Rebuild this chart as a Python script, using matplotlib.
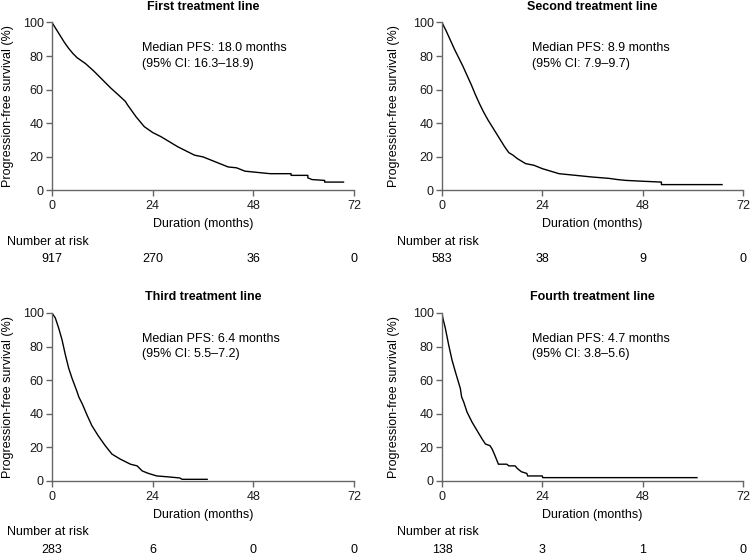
import matplotlib
matplotlib.use("Agg")
import matplotlib.pyplot as plt

plt.rcParams['font.family'] = ['Liberation Sans', 'DejaVu Sans']
plt.rcParams['font.size'] = 9

# Kaplan-Meier curves (months, % progression-free)
t_first = [0, 1, 2, 3, 4, 5, 6, 8, 10, 12, 14, 16, 17.5, 18, 20, 22, 24, 26, 28, 30,
           32, 34, 36, 38, 40, 42, 44, 46, 48, 50, 52, 57, 57, 61, 61, 62, 65, 65, 69.5]
s_first = [100, 96, 92, 88, 84.5, 81.5, 79, 75.5, 71, 66, 61, 56.5, 53, 51, 44, 38, 34.5,
           32, 29, 26, 23.5, 21, 20, 18, 16, 14, 13.5, 11.5, 11, 10.5, 10, 10, 9, 9, 7.5,
           6.5, 6, 5, 5]

t_second = [0, 1, 2, 3, 4, 5, 6, 7, 8, 9, 10, 11, 12, 13, 14, 15, 16, 17, 18, 19, 20,
            22, 24, 26, 28, 30, 32, 36, 40, 42, 44, 48, 52.5, 52.5, 67]
s_second = [100, 95, 89.5, 84, 79, 74, 68.5, 63, 57, 51.5, 46.5, 42, 38, 34, 30, 26, 22.5,
            21, 19, 17.5, 16, 15, 13, 11.5, 10, 9.5, 9, 8, 7.2, 6.5, 6, 5.5, 5, 3.5, 3.5]

t_third = [0, 0.8, 1.6, 2.4, 3.2, 4, 4.8, 6, 6.4, 7.2, 8.4, 9.5, 11, 12.7, 14.3, 16.3,
           18.7, 20.3, 21.5, 23, 25, 27.5, 30.5, 31, 37]
s_third = [100, 97, 91, 84, 75, 67, 61, 53, 50, 46, 39, 33, 27, 21, 16, 13, 10, 9, 6,
           4.5, 3, 2.5, 1.8, 1, 1]

t_fourth = [0, 0.2, 0.8, 1.6, 2.4, 3.2, 4.4, 4.7, 5.2, 6, 7.2, 8.4, 9.6, 10.4, 11.5, 12,
            12.7, 13.5, 15.5, 16, 17.5, 18, 19, 20.3, 20.5, 24, 24.1, 61]
s_fourth = [100, 97, 91, 81, 72, 65, 55, 50, 47, 41, 35, 30, 25, 22, 21, 19, 15, 10, 10,
            9, 9, 7.5, 5.5, 4.5, 3, 3, 2, 2]

titles = ["First treatment line", "Second treatment line",
          "Third treatment line", "Fourth treatment line"]
medians = ["Median PFS: 18.0 months\n(95% CI: 16.3\u201318.9)",
           "Median PFS: 8.9 months\n(95% CI: 7.9\u20139.7)",
           "Median PFS: 6.4 months\n(95% CI: 5.5\u20137.2)",
           "Median PFS: 4.7 months\n(95% CI: 3.8\u20135.6)"]
risk_times = [0, 24, 48, 72]
at_risk = [[917, 270, 36, 0], [583, 38, 9, 0], [283, 6, 0, 0], [138, 3, 1, 0]]

curves = [(t_first, s_first), (t_second, s_second),
          (t_third, s_third), (t_fourth, s_fourth)]

fig = plt.figure(figsize=(7.5, 5.56), dpi=100)
positions = [[0.0693, 0.6574, 0.4027, 0.3022],
             [0.5893, 0.6574, 0.4013, 0.3022],
             [0.0693, 0.1349, 0.4027, 0.3022],
             [0.5893, 0.1349, 0.4013, 0.3022]]
ylab_x = [-0.125, -0.14, -0.125, -0.14]

axis_col = '#666666'
for i in range(4):
    ax = fig.add_axes(positions[i])
    t, s = curves[i]
    ax.plot(t, s, color='black', lw=1.0)
    ax.set_xlim(0, 72)
    ax.set_ylim(0, 100)
    ax.set_xticks(risk_times)
    ax.set_yticks([0, 20, 40, 60, 80, 100])
    for side in ['top', 'right']:
        ax.spines[side].set_visible(False)
    for side in ['left', 'bottom']:
        ax.spines[side].set_color(axis_col)
        ax.spines[side].set_linewidth(1.0)
    ax.tick_params(direction='out', length=4, width=1.0, color=axis_col,
                   labelsize=9, labelcolor='#1a1a1a')
    ax.tick_params(axis='x', pad=3)
    ax.tick_params(axis='y', pad=2)
    ax.set_title(titles[i], fontsize=9, fontweight='bold', pad=9)
    ax.set_ylabel("Progression-free survival (%)", fontsize=9)
    ax.yaxis.set_label_coords(ylab_x[i], 0.5)
    ax.set_xlabel("Duration (months)", fontsize=9)
    ax.xaxis.set_label_coords(0.5, -0.165)
    ax.text(21.5, 80, medians[i], fontsize=9, va='center', ha='left', linespacing=1.35)

    tr = ax.get_xaxis_transform()
    ax.text(-0.149, -0.304, "Number at risk", transform=ax.transAxes,
            ha='left', va='center', fontsize=9)
    for x, n in zip(risk_times, at_risk[i]):
        ax.text(x, -0.41, str(n), transform=tr, ha='center', va='center',
                fontsize=9, clip_on=False)

fig.savefig("out.png", dpi=100)
